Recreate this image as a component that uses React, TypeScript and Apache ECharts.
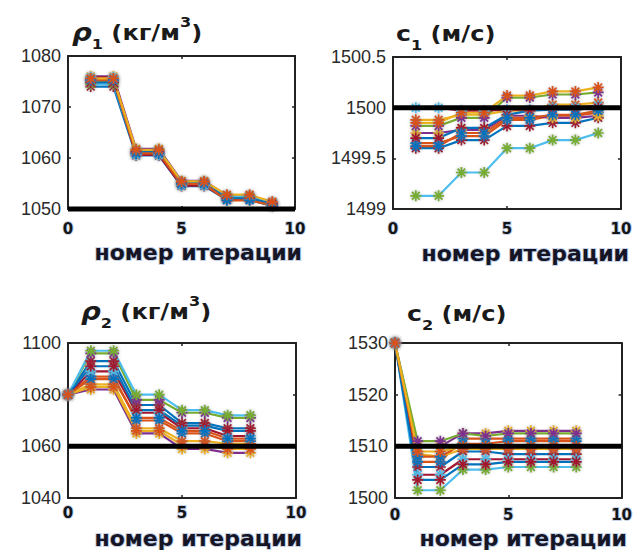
import React, { useEffect, useRef } from "react";
import * as echarts from "echarts";

// ---------- data ----------
const itersTop = [1, 2, 3, 4, 5, 6, 7, 8, 9];
const itersBottom = [0, 1, 2, 3, 4, 5, 6, 7, 8];
const xTicks = [0, 5, 10];
const truthX = [0, 10];

const rho1Runs = [
  [1074, 1074, 1060.5, 1060.5, 1054.5, 1054.5, 1051.8, 1051.8, 1050.6],
  [1075, 1075, 1060.8, 1060.8, 1054.8, 1054.8, 1051.9, 1051.9, 1050.8],
  [1075.5, 1075.5, 1061.3, 1061.3, 1055.2, 1055.2, 1052.2, 1052.2, 1051],
  [1076, 1076, 1061.8, 1061.8, 1055.5, 1055.5, 1052.6, 1052.6, 1051.3],
  [1075.2, 1075.2, 1061, 1061, 1055, 1055, 1052.4, 1052.4, 1051.2],
  [1074.5, 1074.5, 1061.5, 1061.5, 1055.3, 1055.3, 1052.5, 1052.5, 1051.1],
  [1075.8, 1075.8, 1060.6, 1060.6, 1054.6, 1054.6, 1052, 1052, 1050.9],
  [1074.8, 1074.8, 1061.2, 1061.2, 1055.1, 1055.1, 1052.1, 1052.1, 1051],
  [1075.3, 1075.3, 1060.9, 1060.9, 1054.9, 1054.9, 1051.7, 1051.7, 1050.7],
  [1075.6, 1075.6, 1061.6, 1061.6, 1055.4, 1055.4, 1052.8, 1052.8, 1051.4],
];

const c1Runs = [
  [1499.6, 1499.6, 1499.68, 1499.68, 1499.82, 1499.82, 1499.85, 1499.85, 1499.9],
  [1499.65, 1499.65, 1499.72, 1499.72, 1499.88, 1499.88, 1499.92, 1499.92, 1499.95],
  [1499.88, 1499.88, 1499.93, 1499.93, 1499.97, 1499.97, 1500.03, 1500.03, 1500.05],
  [1499.75, 1499.75, 1499.78, 1499.78, 1499.92, 1499.92, 1499.9, 1499.9, 1499.92],
  [1499.82, 1499.82, 1499.9, 1499.9, 1500.1, 1500.1, 1500.13, 1500.13, 1500.15],
  [1499.13, 1499.13, 1499.36, 1499.36, 1499.6, 1499.6, 1499.68, 1499.68, 1499.75],
  [1500, 1500, 1499.97, 1499.97, 1499.98, 1499.98, 1500, 1500, 1500.02],
  [1499.7, 1499.7, 1499.8, 1499.8, 1499.93, 1499.97, 1499.98, 1499.98, 1500],
  [1499.62, 1499.62, 1499.75, 1499.75, 1499.9, 1499.9, 1499.93, 1499.93, 1499.97],
  [1499.85, 1499.85, 1499.95, 1499.95, 1500.12, 1500.12, 1500.16, 1500.16, 1500.2],
];

const rho2Runs = [
  [1080, 1093, 1093, 1076, 1076, 1069, 1069, 1067, 1067],
  [1080, 1087, 1087, 1070, 1070, 1065, 1065, 1062, 1062],
  [1080, 1084, 1084, 1067, 1067, 1062, 1062, 1061, 1061],
  [1080, 1082, 1082, 1065, 1065, 1059, 1059, 1057.5, 1057.5],
  [1080, 1096, 1096, 1078, 1078, 1073, 1073, 1071, 1071],
  [1080, 1097, 1097, 1080, 1080, 1074, 1074, 1072, 1072],
  [1080, 1089, 1089, 1073, 1073, 1067, 1067, 1064, 1064],
  [1080, 1091, 1091, 1074, 1074, 1068, 1068, 1066, 1066],
  [1080, 1086, 1086, 1071, 1071, 1066, 1066, 1063, 1063],
  [1080, 1083, 1083, 1066, 1066, 1060.5, 1060.5, 1059, 1059],
];

const c2Runs = [
  [1530, 1506, 1506, 1509, 1509, 1508.5, 1508.5, 1508.5, 1508.5],
  [1530, 1507, 1507, 1511.5, 1511.5, 1511.5, 1511.5, 1511.5, 1511.5],
  [1530, 1508.5, 1508, 1509.5, 1509.5, 1509.5, 1509.5, 1509.5, 1509.5],
  [1530, 1510, 1510, 1512.5, 1512.5, 1513, 1513, 1513, 1513],
  [1530, 1511, 1511, 1512.5, 1512, 1512.5, 1512.5, 1512.5, 1512.5],
  [1530, 1501.5, 1501.5, 1505.5, 1505.5, 1506, 1506, 1506, 1506],
  [1530, 1504.5, 1504.5, 1507.5, 1507.5, 1507.5, 1507.5, 1507.5, 1507.5],
  [1530, 1503.5, 1503.5, 1506.5, 1506.5, 1507, 1507, 1507, 1507],
  [1530, 1508, 1508, 1510.5, 1510.5, 1511, 1511, 1511, 1511],
  [1530, 1509, 1509, 1510, 1510, 1510, 1510, 1510, 1510],
];

const rho1True = 1050;
const c1True = 1500;
const rho2True = 1060;
const c2True = 1510;

const rho1YTicks = [1050, 1080, 10];
const c1YTicks = [1499, 1500.5, 0.5];
const rho2YTicks = [1040, 1100, 20];
const c2YTicks = [1500, 1530, 10];

const xAxisTitle = "номер итерации";

// ---------- styles ----------
const PALETTE = ["#0072BD", "#D95319", "#EDB120", "#7E2F8E", "#77AC30", "#4DBEEE", "#A2142F"];
const ASTERISK = "path://M0 -10 V10 M-10 0 H10 M-7.07 -7.07 L7.07 7.07 M-7.07 7.07 L7.07 -7.07";
const AXIS_COLOR = "#222";

type Panel = {
  grid: { left: number; top: number; width: number; height: number };
  xs: number[];
  runs: number[][];
  truth: number;
  yTicks: number[];
  xLabelMargin: number;
};

const panels: Panel[] = [
  { grid: { left: 68, top: 56, width: 227, height: 153 }, xs: itersTop, runs: rho1Runs, truth: rho1True, yTicks: rho1YTicks, xLabelMargin: 12 },
  { grid: { left: 393, top: 57, width: 228, height: 152 }, xs: itersTop, runs: c1Runs, truth: c1True, yTicks: c1YTicks, xLabelMargin: 12 },
  { grid: { left: 68, top: 343, width: 228, height: 155 }, xs: itersBottom, runs: rho2Runs, truth: rho2True, yTicks: rho2YTicks, xLabelMargin: 7 },
  { grid: { left: 395, top: 343, width: 231, height: 155 }, xs: itersBottom, runs: c2Runs, truth: c2True, yTicks: c2YTicks, xLabelMargin: 9 },
];

function buildOption() {
  const grid: any[] = [];
  const xAxis: any[] = [];
  const yAxis: any[] = [];
  const series: any[] = [];

  panels.forEach((p, i) => {
    grid.push({ ...p.grid, containLabel: false });
    const xMin = xTicks[0];
    const xMax = xTicks[xTicks.length - 1];
    const xInt = xTicks[1] - xTicks[0];
    const common = {
      gridIndex: i,
      axisLine: { show: true, onZero: false, lineStyle: { color: AXIS_COLOR, width: 2 } },
      axisTick: { show: true, inside: true, length: 3, lineStyle: { color: AXIS_COLOR, width: 1.5 } },
      splitLine: { show: false },
    };
    xAxis.push({
      ...common,
      type: "value",
      position: "bottom",
      min: xMin,
      max: xMax,
      interval: xInt,
      axisLabel: {
        margin: p.xLabelMargin,
        fontFamily: "DejaVu Sans",
        fontWeight: "bold",
        fontSize: 15,
        color: "#151515",
        textBorderColor: "rgba(170,190,225,0.7)",
        textBorderWidth: 2,
        formatter: (v: number) => String(v),
      },
    });
    xAxis.push({
      ...common,
      type: "value",
      position: "top",
      min: xMin,
      max: xMax,
      interval: xInt,
      axisLabel: { show: false },
    });
    const [yMin, yMax, yInt] = p.yTicks;
    yAxis.push({
      ...common,
      type: "value",
      position: "left",
      min: yMin,
      max: yMax,
      interval: yInt,
      axisLabel: {
        margin: 7,
        fontFamily: "Liberation Sans",
        fontSize: 18,
        color: "#2a2a2a",
        formatter: (v: number) => String(v),
      },
    });
    yAxis.push({
      ...common,
      type: "value",
      position: "right",
      min: yMin,
      max: yMax,
      interval: yInt,
      axisLabel: { show: false },
    });

    p.runs.forEach((ys, k) => {
      series.push({
        type: "line",
        xAxisIndex: 2 * i,
        yAxisIndex: 2 * i,
        data: p.xs.map((x, j) => [x, ys[j]]),
        symbol: ASTERISK,
        symbolSize: 11,
        showSymbol: true,
        lineStyle: { color: PALETTE[k % 7], width: 2.2 },
        itemStyle: {
          color: "rgba(0,0,0,0)",
          borderColor: PALETTE[(k + 6) % 7],
          borderWidth: 1.7,
          shadowColor: "rgba(120,120,120,0.55)",
          shadowBlur: 3,
        },
        emphasis: { disabled: true },
        silent: true,
        z: 2,
      });
    });
    series.push({
      type: "line",
      xAxisIndex: 2 * i,
      yAxisIndex: 2 * i,
      data: truthX.map((x) => [x, p.truth]),
      symbol: "none",
      clip: false,
      lineStyle: { color: "#000", width: 5 },
      emphasis: { disabled: true },
      silent: true,
      z: 4,
    });
  });

  const titleRich = {
    r: { fontFamily: "DejaVu Sans", fontStyle: "italic", fontWeight: "bold", fontSize: 24, lineHeight: 36, fill: "#1a1a1a" },
    c: { fontFamily: "DejaVu Sans", fontWeight: "bold", fontSize: 22, lineHeight: 36, fill: "#1a1a1a" },
    m: { fontFamily: "DejaVu Sans", fontWeight: "bold", fontSize: 21, lineHeight: 36, fill: "#1a1a1a" },
    s: { fontFamily: "DejaVu Sans", fontWeight: "bold", fontSize: 14, lineHeight: 22, verticalAlign: "bottom", fill: "#1a1a1a" },
    s2: { fontFamily: "DejaVu Sans", fontWeight: "bold", fontSize: 14, lineHeight: 10, verticalAlign: "bottom", fill: "#1a1a1a" },
    p: { fontFamily: "DejaVu Sans", fontWeight: "bold", fontSize: 14, lineHeight: 8, verticalAlign: "top", fill: "#1a1a1a" },
  };

  const titles = [
    { x: 72, y: 15, text: "{r|ρ}{s|1}{m| (кг/м}{p|3}{m|)}" },
    { x: 396, y: 16, text: "{c|c}{s2|1}{m| (м/с)}" },
    { x: 81, y: 294, text: "{r|ρ}{s|2}{m| (кг/м}{p|3}{m|)}" },
    { x: 407, y: 296, text: "{c|c}{s|2}{m| (м/с)}" },
  ];

  const names = [
    { x: 302, y: 252 },
    { x: 629, y: 253 },
    { x: 302, y: 538 },
    { x: 627, y: 538 },
  ];

  const graphic: any[] = [];
  titles.forEach((t) => {
    graphic.push({
      type: "text",
      x: t.x,
      y: t.y,
      scaleX: 1.15,
      silent: true,
      style: { text: t.text, rich: titleRich, align: "left", verticalAlign: "top" },
    });
  });
  names.forEach((n) => {
    graphic.push({
      type: "text",
      x: n.x,
      y: n.y,
      silent: true,
      style: {
        text: xAxisTitle,
        fontFamily: "DejaVu Sans",
        fontWeight: "bold",
        fontSize: 22,
        fill: "#151525",
        stroke: "rgba(170,190,225,0.7)",
        lineWidth: 2,
        align: "right",
        verticalAlign: "middle",
      },
    });
  });

  return {
    animation: false,
    backgroundColor: "#ffffff",
    grid,
    xAxis,
    yAxis,
    series,
    graphic,
  };
}

export default function App() {
  const ref = useRef<HTMLDivElement>(null);
  useEffect(() => {
    if (!ref.current) return;
    const chart = echarts.init(ref.current, undefined, { renderer: "svg" });
    chart.setOption(buildOption() as any);
    return () => chart.dispose();
  }, []);
  return (
    <div
      ref={ref}
      style={{ position: "absolute", left: 0, top: 0, width: 636, height: 550, background: "#fff" }}
    />
  );
}
